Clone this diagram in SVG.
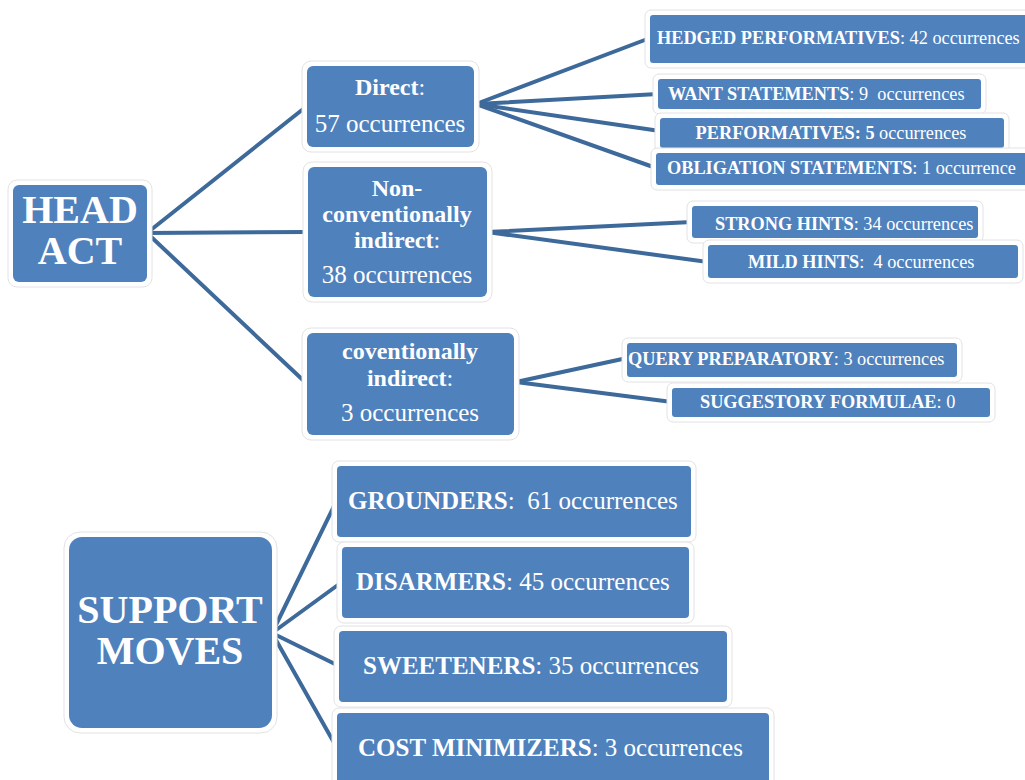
<svg xmlns="http://www.w3.org/2000/svg" width="1025" height="780" viewBox="0 0 1025 780">
<style>
.rim{fill:#ffffff;stroke:#e2e2e2;stroke-width:1}
.box{fill:#4f81bd}
.t{font-family:"Liberation Serif","Times New Roman",serif;fill:#ffffff}
.b{font-weight:bold}
.c{fill:none;stroke:#3d6a9a;stroke-width:4;stroke-linecap:round}
</style>
<rect width="1025" height="780" fill="#ffffff"/>
<g id="connectors">
<line class="c" x1="147" y1="233" x2="307" y2="106"/>
<line class="c" x1="147" y1="233" x2="308" y2="232"/>
<line class="c" x1="147" y1="233" x2="305" y2="382"/>
<line class="c" x1="476" y1="104" x2="650" y2="38"/>
<line class="c" x1="476" y1="104" x2="658" y2="94"/>
<line class="c" x1="476" y1="104" x2="660" y2="131"/>
<line class="c" x1="476" y1="104" x2="656" y2="168"/>
<line class="c" x1="487" y1="232" x2="692" y2="222"/>
<line class="c" x1="487" y1="232" x2="708" y2="262"/>
<line class="c" x1="516" y1="382" x2="627" y2="358"/>
<line class="c" x1="516" y1="382" x2="672" y2="402"/>
<line class="c" x1="272" y1="633" x2="337" y2="500"/>
<line class="c" x1="272" y1="633" x2="342" y2="582"/>
<line class="c" x1="272" y1="633" x2="339" y2="666"/>
<line class="c" x1="272" y1="633" x2="337" y2="748"/>
</g>
<g id="head-act">
<rect class="rim" x="8" y="180" width="144" height="107" rx="9"/>
<rect class="box" x="13" y="185" width="134" height="97" rx="6"/>
<text class="t b" x="80" y="223" font-size="40" text-anchor="middle">HEAD</text>
<text class="t b" x="80" y="264" font-size="40" text-anchor="middle">ACT</text>
</g>
<g id="direct">
<rect class="rim" x="302" y="61" width="177" height="91" rx="9"/>
<rect class="box" x="307" y="66" width="167" height="81" rx="6"/>
<text class="t" x="390" y="95" font-size="24" text-anchor="middle"><tspan class="b">Direct</tspan>:</text>
<text class="t" x="390" y="132" font-size="25" text-anchor="middle">57 occurrences</text>
</g>
<g id="non-conventionally-indirect">
<rect class="rim" x="303" y="162" width="189" height="140" rx="9"/>
<rect class="box" x="308" y="167" width="179" height="130" rx="6"/>
<text class="t b" x="397" y="196" font-size="24" text-anchor="middle">Non-</text>
<text class="t b" x="397" y="222" font-size="24" text-anchor="middle">conventionally</text>
<text class="t" x="397" y="248" font-size="24" text-anchor="middle"><tspan class="b">indirect</tspan>:</text>
<text class="t" x="397" y="283" font-size="25" text-anchor="middle">38 occurrences</text>
</g>
<g id="conventionally-indirect">
<rect class="rim" x="302" y="328" width="217" height="112" rx="9"/>
<rect class="box" x="307" y="333" width="207" height="102" rx="6"/>
<text class="t b" x="410" y="359" font-size="24" text-anchor="middle">coventionally</text>
<text class="t" x="410" y="386" font-size="24" text-anchor="middle"><tspan class="b">indirect</tspan>:</text>
<text class="t" x="410" y="421" font-size="25" text-anchor="middle">3 occurrences</text>
</g>
<g id="hedged-performatives">
<rect class="rim" x="645" y="10" width="390" height="58" rx="6"/>
<rect class="box" x="650" y="15" width="380" height="48" rx="3"/>
<text class="t" x="657" y="44" font-size="18.3"><tspan class="b">HEDGED PERFORMATIVES</tspan>: 42 occurrences</text>
</g>
<g id="want-statements">
<rect class="rim" x="653" y="74" width="333" height="40" rx="6"/>
<rect class="box" x="658" y="79" width="323" height="30" rx="3"/>
<text class="t" x="668" y="100" font-size="18.3" xml:space="preserve"><tspan class="b">WANT STATEMENTS</tspan>: 9  occurrences</text>
</g>
<g id="performatives">
<rect class="rim" x="655" y="113" width="354" height="40" rx="6"/>
<rect class="box" x="660" y="118" width="344" height="30" rx="3"/>
<text class="t" x="831" y="139" font-size="18.3" text-anchor="middle"><tspan class="b">PERFORMATIVES: 5</tspan> occurrences</text>
</g>
<g id="obligation-statements">
<rect class="rim" x="651" y="148" width="384" height="42" rx="6"/>
<rect class="box" x="656" y="153" width="374" height="32" rx="3"/>
<text class="t" x="667" y="174" font-size="18.3"><tspan class="b">OBLIGATION STATEMENTS</tspan>: 1 occurrence</text>
</g>
<g id="strong-hints">
<rect class="rim" x="687" y="201" width="296" height="42" rx="6"/>
<rect class="box" x="692" y="206" width="286" height="32" rx="3"/>
<text class="t" x="715" y="230" font-size="18.3"><tspan class="b">STRONG HINTS</tspan>: 34 occurrences</text>
</g>
<g id="mild-hints">
<rect class="rim" x="703" y="240" width="320" height="43" rx="6"/>
<rect class="box" x="708" y="245" width="310" height="33" rx="3"/>
<text class="t" x="748" y="268" font-size="18.3" xml:space="preserve"><tspan class="b">MILD HINTS</tspan>:  4 occurrences</text>
</g>
<g id="query-preparatory">
<rect class="rim" x="622" y="338" width="340" height="44" rx="6"/>
<rect class="box" x="627" y="343" width="330" height="34" rx="3"/>
<text class="t" x="628" y="365" font-size="18.3"><tspan class="b">QUERY PREPARATORY</tspan>: 3 occurrences</text>
</g>
<g id="suggestory-formulae">
<rect class="rim" x="667" y="383" width="328" height="39" rx="6"/>
<rect class="box" x="672" y="388" width="318" height="29" rx="3"/>
<text class="t" x="700" y="408" font-size="18.3"><tspan class="b">SUGGESTORY FORMULAE</tspan>: 0</text>
</g>
<g id="support-moves">
<rect class="rim" x="64" y="532" width="213" height="201" rx="16"/>
<rect class="box" x="69" y="537" width="203" height="191" rx="13"/>
<text class="t b" x="170" y="623" font-size="40" text-anchor="middle">SUPPORT</text>
<text class="t b" x="170" y="664" font-size="40" text-anchor="middle">MOVES</text>
</g>
<g id="grounders">
<rect class="rim" x="332" y="461" width="364" height="81" rx="7"/>
<rect class="box" x="337" y="466" width="354" height="71" rx="4"/>
<text class="t" x="348" y="509" font-size="25" xml:space="preserve"><tspan class="b">GROUNDERS</tspan>:  61 occurrences</text>
</g>
<g id="disarmers">
<rect class="rim" x="337" y="542" width="357" height="81" rx="7"/>
<rect class="box" x="342" y="547" width="347" height="71" rx="4"/>
<text class="t" x="356" y="590" font-size="25"><tspan class="b">DISARMERS</tspan>: 45 occurrences</text>
</g>
<g id="sweeteners">
<rect class="rim" x="334" y="626" width="398" height="81" rx="7"/>
<rect class="box" x="339" y="631" width="388" height="71" rx="4"/>
<text class="t" x="363" y="674" font-size="25"><tspan class="b">SWEETENERS</tspan>: 35 occurrences</text>
</g>
<g id="cost-minimizers">
<rect class="rim" x="332" y="708" width="442" height="90" rx="7"/>
<rect class="box" x="337" y="713" width="432" height="80" rx="4"/>
<text class="t" x="358" y="756" font-size="25"><tspan class="b">COST MINIMIZERS</tspan>: 3 occurrences</text>
</g>
</svg>
